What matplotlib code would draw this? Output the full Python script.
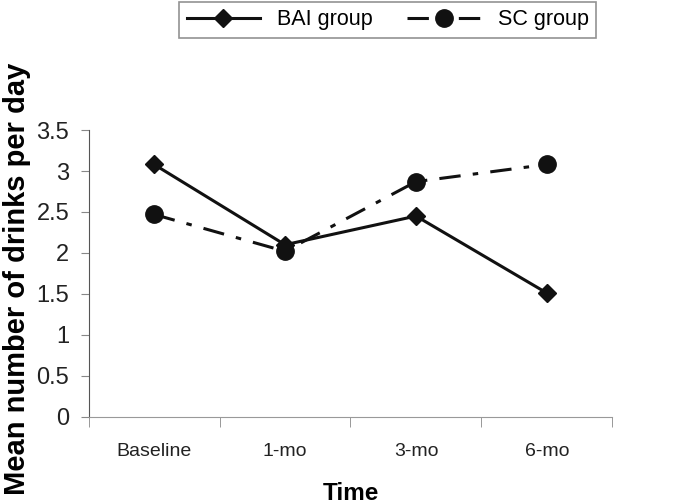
import numpy as np
import matplotlib.pyplot as plt

categories = ["Baseline", "1-mo", "3-mo", "6-mo"]
bai_group = [3.08, 2.1, 2.45, 1.51]
sc_group = [2.47, 2.02, 2.87, 3.08]
y_ticks = [0, 0.5, 1, 1.5, 2, 2.5, 3, 3.5]

plt.rcParams['font.family'] = ['Liberation Sans', 'DejaVu Sans']

fig = plt.figure(figsize=(6.92, 5.04), dpi=100)
ax = fig.add_axes([0.128, 0.173, 0.757, 0.569])

x = np.arange(len(categories))
ax.plot(x, bai_group, color="#111111", lw=2.2, marker="D", ms=9, label="BAI group")
ax.plot(x, sc_group, color="#111111", lw=2.2, marker="o", ms=12.5,
        dashes=[7, 4, 1.8, 4], label="SC group")

ax.set_xlim(-0.5, len(categories) - 0.5)
ax.set_ylim(0, 3.5)
ax.set_yticks(y_ticks)
ax.set_yticklabels([f"{v:g}" for v in y_ticks], fontsize=17, color="#222222")

ax.set_xticks(x)
ax.set_xticklabels(categories, fontsize=14, color="#222222")
ax.tick_params(axis="x", which="major", length=0, pad=19)
ax.set_xticks(np.arange(-0.5, len(categories), 1), minor=True)
ax.tick_params(axis="x", which="minor", length=7, color="#888888", direction="out")
ax.tick_params(axis="y", length=6, color="#888888", pad=8)

for s in ["top", "right"]:
    ax.spines[s].set_visible(False)
ax.spines["left"].set_color("#555555")
ax.spines["bottom"].set_color("#999999")

ax.set_xlabel("Time", fontsize=17.5, fontweight="bold")
ax.xaxis.set_label_coords(0.5, -0.229)
ax.set_ylabel("Mean number of drinks per day", fontsize=21, fontweight="bold")
ax.yaxis.set_label_coords(-0.11, 0.48)

leg = fig.legend(loc="upper center", bbox_to_anchor=(0.56, 1.018), ncol=2,
                 fontsize=15.5, frameon=True, fancybox=False, handlelength=3.4,
                 columnspacing=1.6, borderpad=0.35)
leg.get_frame().set_edgecolor("#777777")
leg.get_frame().set_linewidth(1.2)

fig.savefig("out.png", dpi=100)
